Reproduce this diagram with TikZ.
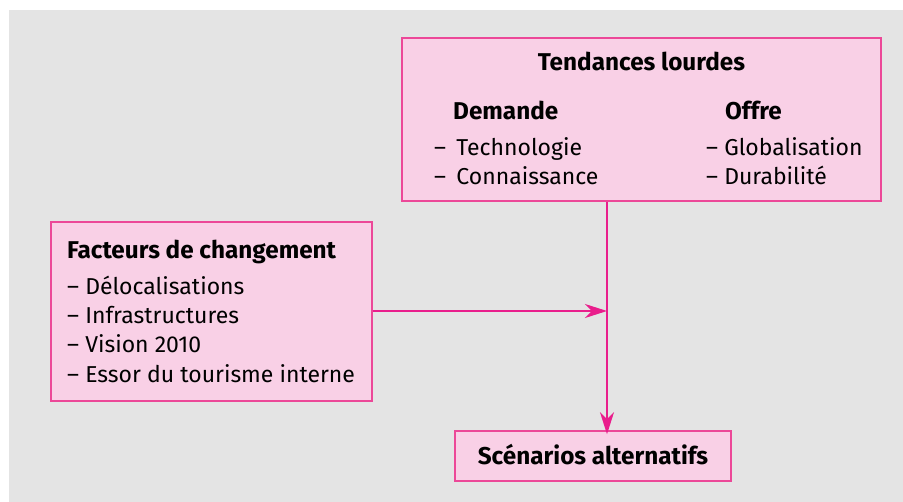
\documentclass[tikz,border=0pt]{standalone}
\usepackage{fontspec}
\setmainfont{Fira Sans}
\usetikzlibrary{arrows.meta}
\definecolor{panel}{RGB}{228,228,228}
\definecolor{boxfill}{RGB}{249,208,230}
\definecolor{boxline}{RGB}{236,72,152}
\definecolor{flow}{RGB}{233,30,140}
\tikzset{
  box/.style={draw=boxline, fill=boxfill, line width=1.5pt, inner sep=0pt},
  txt/.style={anchor=base west, inner sep=0pt, font=\fontsize{23}{27}\selectfont},
  hd/.style={txt, font=\fontsize{24.3}{28}\selectfont\bfseries},
  flowline/.style={draw=flow, line width=1.8pt,
    -{Stealth[length=22pt, width=14pt, inset=7pt]}}
}
\begin{document}
\begin{tikzpicture}[x=1pt, y=-1pt]
\useasboundingbox (0,0) rectangle (903,502);
\fill[panel] (9,10) rectangle (903,502);

% boxes
\node[box, minimum width=479pt, minimum height=163pt] (tl) at (641.5,119.5) {};
\node[box, minimum width=321pt, minimum height=179pt] (fc) at (211.5,311.5) {};
\node[box, minimum width=276pt, minimum height=50pt] (sc) at (593,456) {};

% junction of the two flows
\coordinate (j) at (607,311);

% contents of the top box
\node[hd, anchor=base] (tlh) at (641.5,71) {Tendances lourdes};
\node[hd] (dem) at (453,119.5) {Demande};
\node[hd] (off) at (725,119.5) {Offre};
\node[txt] (d1) at (434,155.5) {–\hspace{0.45em}Technologie};
\node[txt] (d2) at (434,184.5) {–\hspace{0.45em}Connaissance};
\node[txt] (o1) at (706,155.5) {– Globalisation};
\node[txt] (o2) at (706,184.5) {– Durabilité};

% contents of the left box
\node[hd] (fch) at (67,259) {Facteurs de changement};
\node[txt] (f1) at (67,294.5) {– Délocalisations};
\node[txt] (f2) at (67,323.5) {– Infrastructures};
\node[txt] (f3) at (67,353) {– Vision 2010};
\node[txt] (f4) at (67,382.5) {– Essor du tourisme interne};

% bottom box label
\node[hd, anchor=base] (sch) at (593,465) {Scénarios alternatifs};

% connectors
\draw[flowline] (tl.south -| j) -- ([yshift=-4pt]sc.north -| j);
\draw[flowline] (fc.east |- j) -- (j);
\end{tikzpicture}
\end{document}
